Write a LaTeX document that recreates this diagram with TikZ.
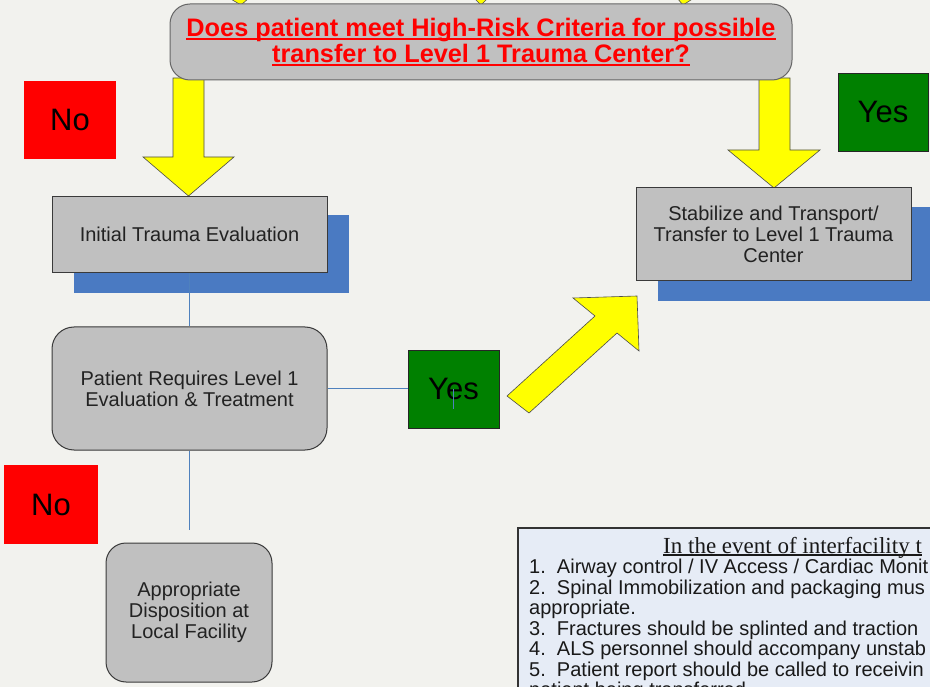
\documentclass[tikz,border=0pt]{standalone}
\usepackage{fontspec}
\setmainfont{Liberation Sans}
\newfontfamily\headserif{Liberation Serif}
\newcommand\myunderline[2][3pt]{\setbox0\hbox{#2}\rlap{\rule[-#1]{\wd0}{1.6pt}}\box0}
\definecolor{bg}{HTML}{F2F2EE}
\definecolor{boxgray}{HTML}{C0C0C0}
\definecolor{boxline}{HTML}{3A3A3A}
\definecolor{textgray}{HTML}{222222}
\definecolor{shadowblue}{HTML}{4A7AC2}
\definecolor{linkblue}{HTML}{4F81BD}
\definecolor{flagred}{HTML}{FF0000}
\definecolor{flaggreen}{HTML}{008000}
\definecolor{noteblue}{HTML}{E6ECF6}
\definecolor{arrowyellow}{HTML}{FFFF00}
\tikzset{
  graybox/.style={draw=boxline, fill=boxgray, line width=1pt, inner sep=0pt, align=center,
    font=\fontsize{20}{21}\selectfont, text=textgray},
  roundbox/.style={graybox, rounded corners=22pt},
  flagbox/.style={inner sep=0pt, font=\fontsize{31}{31}\selectfont, text=black,
    minimum width=92pt, minimum height=78pt},
  nobox/.style={flagbox, fill=flagred},
  yesbox/.style={flagbox, fill=flaggreen, draw=black!85, line width=0.8pt},
  shadowbox/.style={fill=shadowblue},
  yarrow/.style={fill=arrowyellow, draw=black!70, line width=0.6pt, line join=miter},
  link/.style={draw=linkblue, line width=0.9pt},
  noteline/.style={anchor=base west, inner sep=0pt, font=\fontsize{20}{20}\selectfont, text=black!90}
}
\begin{document}
\begin{tikzpicture}[x=1pt,y=-1pt]
\useasboundingbox (0,0) rectangle (930,687);
\clip (0,0) rectangle (930,687);
\fill[bg] (0,0) rectangle (930,687);

% incoming arrow tips at the top edge
\filldraw[yarrow] (229,-2) -- (249,-2) -- (241,5) -- cycle;
\filldraw[yarrow] (474,-2) -- (488,-2) -- (481,5) -- cycle;
\filldraw[yarrow] (677,-2) -- (694,-2) -- (683,5) -- cycle;

% shadows
\fill[shadowbox] (74,215) rectangle (349,293);
\fill[shadowbox] (658,207) rectangle (945,301);

% yellow block arrows
\filldraw[yarrow] (173,78) -- (204,78) -- (204,157) -- (234,157) -- (188.5,196) -- (143,157) -- (173,157) -- cycle;
\filldraw[yarrow] (759,78) -- (790,78) -- (790,150) -- (820,150) -- (774,188) -- (728,150) -- (759,150) -- cycle;
\filldraw[yarrow] (507,396) -- (595,316) -- (573,298) -- (637,296) -- (639,351) -- (617,333) -- (529,413) -- cycle;

% question box
\node[roundbox, rounded corners=20pt, draw=black!60, minimum width=622pt, minimum height=76pt,
      font=\bfseries\fontsize{25.3}{26}\selectfont, text=flagred] (q) at (481,42)
  {\myunderline{Does patient meet High-Risk Criteria for possible}\\\myunderline{transfer to Level 1 Trauma Center?}};

% process boxes
\node[graybox, minimum width=275pt, minimum height=76pt] (init) at (189.5,235) {\raisebox{1.5pt}{Initial Trauma Evaluation}};
\node[graybox, minimum width=275pt, minimum height=93pt] (stab) at (773.5,234.5)
  {Stabilize and Transport/\\Transfer to Level 1 Trauma\\Center};
\node[roundbox, minimum width=275pt, minimum height=123pt] (pat) at (189.5,388.5)
  {Patient Requires Level 1\\Evaluation \& Treatment};
\node[roundbox, rounded corners=20pt, minimum width=166pt, minimum height=139pt] (disp) at (189,612.5)
  {Appropriate\\Disposition at\\Local Facility};

% flags
\node[nobox] (no1) at (70,120) {No};
\node[yesbox, minimum width=90pt] (yes1) at (883,112) {Yes};
\node[yesbox, minimum width=91pt] (yes2) at (453.5,389) {Yes};
\node[nobox, minimum width=94pt, minimum height=79pt] (no2) at (51,504.5) {No};

% connectors
\coordinate (nostub) at (189.5,530);
\coordinate (yesstub) at (453.5,409);
\draw[link] (init.south) -- (pat.north);
\draw[link] (pat.east) -- (pat.east -| yes2.west);
\draw[link] (pat.south) -- (nostub);
\draw[link] (yes2.center) -- (yesstub);

% note box
\filldraw[fill=noteblue, draw=black!80, line width=1.2pt] (518,528) rectangle (960,720);
\node[noteline, font=\headserif\fontsize{23}{23}\selectfont] (nh) at (663,553) {\myunderline[2.5pt]{In the event of interfacility t}};
\node[noteline] (n1) at (529,573.5) {1.\ \ Airway control / IV Access / Cardiac Monit};
\node[noteline] (n2) at (529,594) {2.\ \ Spinal Immobilization and packaging mus};
\node[noteline] (n2b) at (529,614.5) {appropriate.};
\node[noteline] (n3) at (529,635) {3.\ \ Fractures should be splinted and traction};
\node[noteline] (n4) at (529,655.5) {4.\ \ ALS personnel should accompany unstab};
\node[noteline] (n5) at (529,676) {5.\ \ Patient report should be called to receivin};
\node[noteline] (n5b) at (529,696.5) {patient being transferred.};
\end{tikzpicture}
\end{document}
